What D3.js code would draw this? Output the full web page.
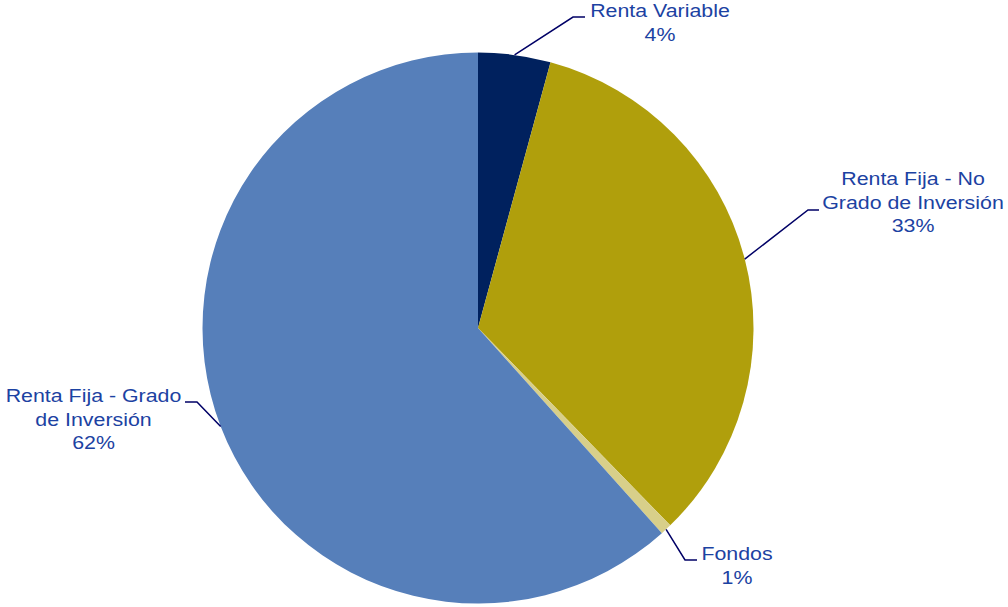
<!DOCTYPE html>
<html>
<head>
<meta charset="utf-8">
<script src="https://cdn.jsdelivr.net/npm/d3@7"></script>
<style>
  body { margin: 0; background: #fff; }
  svg { display: block; }
</style>
</head>
<body>
<div class="chart"></div>
<script>
// data
const categories = ['Renta Variable', 'Renta Fija - No Grado de Inversión', 'Fondos', 'Renta Fija - Grado de Inversión'];
const values = [4.24, 33.47, 0.66, 61.63];
const pctLabels = ['4%', '33%', '1%', '62%'];
const labelLines = [
  ['Renta Variable'],
  ['Renta Fija - No', 'Grado de Inversión'],
  ['Fondos'],
  ['Renta Fija - Grado', 'de Inversión']
];
const colors = ['#00215e', '#b09f0c', '#d8cf8a', '#567fba'];

// label placement (elbow point, horizontal end, text centre x, first baseline y)
const labelPos = [
  { ex: 573, ey: 17, hx: 585, tx: 660, ty: 17 },
  { ex: 808, ey: 210, hx: 819, tx: 913, ty: 185 },
  { ex: 685, ey: 560, hx: 697, tx: 737, ty: 560 },
  { ex: 197, ey: 402, hx: 185, tx: 93.5, ty: 402 }
];

const width = 1008,
    height = 607,
    cx = 478,
    cy = 328,
    radius = 275.5,
    lineH = 23.6,
    stretch = 1.155;

const svg = d3.select('.chart')
  .append('svg')
  .attr('width', width)
  .attr('height', height);

const pie = d3.pie()
  .sort(null)
  .value(d => d);

const arcs = pie(values);

const arc = d3.arc()
  .innerRadius(0)
  .outerRadius(radius);

const edge = d3.arc()
  .innerRadius(radius)
  .outerRadius(radius);

const g = svg.append('g')
  .attr('transform', 'translate(' + cx + ',' + cy + ')');

g.selectAll('path.slice')
  .data(arcs)
  .enter()
  .append('path')
  .attr('class', 'slice')
  .attr('d', arc)
  .style('fill', (d, i) => colors[i]);

// leader lines
svg.selectAll('polyline.leader')
  .data(arcs)
  .enter()
  .append('polyline')
  .attr('class', 'leader')
  .attr('points', (d, i) => {
    const p = edge.centroid(d);
    const l = labelPos[i];
    return [[cx + p[0], cy + p[1]], [l.ex, l.ey], [l.hx, l.ey]].map(q => q.join(',')).join(' ');
  })
  .style('fill', 'none')
  .style('stroke', '#000066')
  .style('stroke-width', 1.5);

// labels (text in the reference is a bit wider than plain Arial)
const labels = svg.selectAll('text.lbl')
  .data(arcs)
  .enter()
  .append('text')
  .attr('class', 'lbl')
  .attr('text-anchor', 'middle')
  .attr('transform', (d, i) => 'translate(' + labelPos[i].tx + ',' + labelPos[i].ty + ') scale(' + stretch + ',1)')
  .style('font-family', '"Liberation Sans", Arial, sans-serif')
  .style('font-size', '18.5px')
  .style('fill', '#1c42a2');

labels.each(function(d, i) {
  const t = d3.select(this);
  const lines = labelLines[i].concat([pctLabels[i]]);
  lines.forEach((s, j) => {
    t.append('tspan')
      .attr('x', 0)
      .attr('y', j * lineH)
      .text(s);
  });
});
</script>
</body>
</html>
